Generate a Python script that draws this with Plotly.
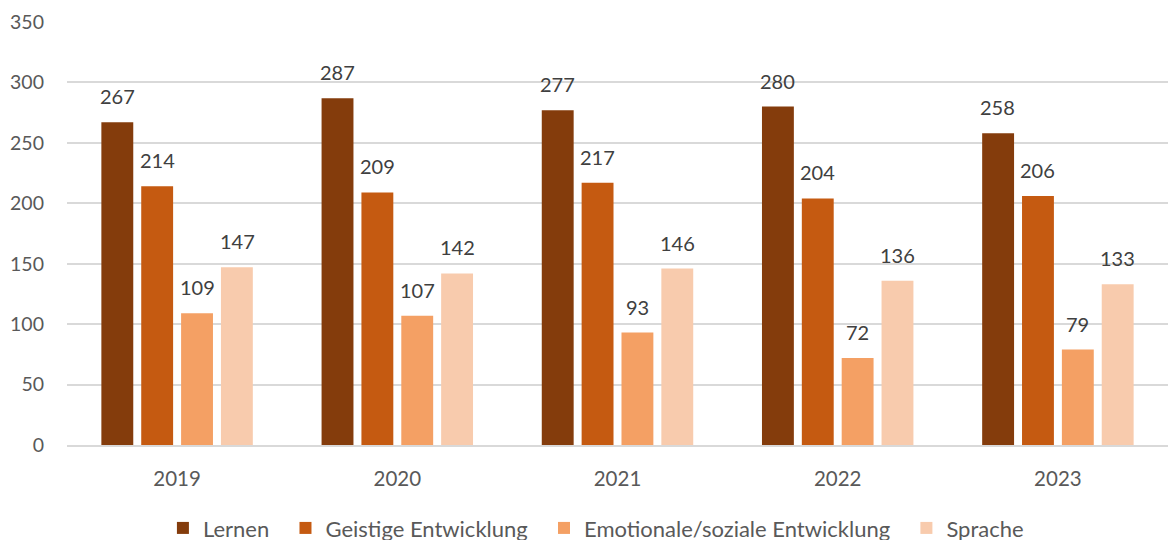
import plotly.graph_objects as go

years = ["2019", "2020", "2021", "2022", "2023"]
series_names = ["Lernen", "Geistige Entwicklung", "Emotionale/soziale Entwicklung", "Sprache"]
lernen = [267, 287, 277, 280, 258]
geistige = [214, 209, 217, 204, 206]
emotionale = [109, 107, 93, 72, 79]
sprache = [147, 142, 146, 136, 133]
y_ticks = [0, 50, 100, 150, 200, 250, 300, 350]

colors = ["#843C0C", "#C55A11", "#F4A064", "#F8CBAD"]
all_values = [lernen, geistige, emotionale, sprache]
FONT = "Lato, Open Sans, sans-serif"
PAD = "\u00a0" * 2

fig = go.Figure()
for k, (name, vals, col) in enumerate(zip(series_names, all_values, colors)):
    label = name + (PAD if k < len(series_names) - 1 else "")
    fig.add_trace(go.Bar(x=years, y=vals, name=label, marker=dict(color=col, line=dict(width=0))))

annotations = []
slot = 40
for i, vals in enumerate(all_values):
    for j, v in enumerate(vals):
        annotations.append(dict(
            x=j, y=v, text=str(v), showarrow=False, xref="x", yref="y",
            xshift=(i - 1.5) * slot, yanchor="bottom", yshift=12,
            font=dict(family=FONT, size=20, color="#404040")))

fig.update_layout(
    width=1168, height=540,
    margin=dict(l=67, r=0, t=22, b=95),
    paper_bgcolor="white", plot_bgcolor="white",
    barmode="group", bargap=0.276, bargroupgap=0.2,
    font=dict(family=FONT, size=19, color="#595959"),
    xaxis=dict(type="category", range=[-0.5, 4.5], showgrid=False, showline=True,
               linecolor="#D9D9D9", linewidth=1.5,
               ticks="", ticklabelstandoff=15, tickfont=dict(size=20.5, color="#595959")),
    yaxis=dict(range=[0, 350], tickvals=y_ticks, showgrid=True, gridcolor="#D9D9D9",
               gridwidth=1.5, zeroline=False, showline=False, ticks="", ticklabelstandoff=22,
               tickfont=dict(size=19.5, color="#595959")),
    legend=dict(orientation="h", x=0.4804, xanchor="center", yref="container", y=0.022,
                yanchor="middle", font=dict(size=22, color="#595959"), itemwidth=30,
                traceorder="normal"),
    annotations=annotations,
    showlegend=True,
)

fig.write_html("out.html", config={"displayModeBar": False},
               post_script="document.body.style.margin='0';document.body.style.padding='0';")
